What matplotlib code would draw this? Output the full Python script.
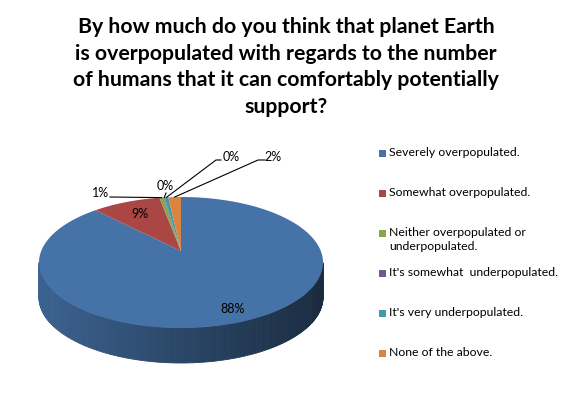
import numpy as np
import matplotlib.pyplot as plt
from matplotlib.colors import to_rgb
from matplotlib.patches import Polygon, Rectangle

# survey shares (percent)
categories = ["Severely overpopulated.",
              "Somewhat overpopulated.",
              "Neither overpopulated or\nunderpopulated.",
              "It's somewhat  underpopulated.",
              "It's very underpopulated.",
              "None of the above."]
shares = [87.9, 9.2, 0.6, 0.1, 0.5, 1.7]
colors = ["#4572A7", "#AA4643", "#89A54E", "#71588F", "#4198AF", "#DB843D"]

title = ("By how much do you think that planet Earth\n"
         "is overpopulated with regards to the number\n"
         "of humans that it can comfortably potentially\n"
         "support?")

FONT = "Lato"

# pie geometry in pixels (simple perspective for the tilted top face)
cx, a = 181.0, 139.8
y0, A, C = 251.0, 19.4, 0.1756
depth = 35.0


def proj(u, v):
    w = 1 + C * v
    return cx + a * u / w, (y0 - A * v) / w


def shade(rgb, f):
    return tuple(np.clip(np.array(rgb) * f, 0, 1))


fig = plt.figure(figsize=(5.71, 3.93), dpi=100)
ax = fig.add_axes([0, 0, 1, 1])
ax.set_xlim(0, 571)
ax.set_ylim(393, 0)
ax.axis("off")

fracs = np.array(shares) / sum(shares)
bounds = np.concatenate([[0], np.cumsum(fracs)])
# angles in radians, start at 12 o'clock, clockwise
angs = np.pi / 2 - 2 * np.pi * bounds

# visible front arc of the side wall
s = np.arcsin(C)
front_lo, front_hi = np.pi + s, 2 * np.pi - s
xl = proj(-np.sqrt(1 - C ** 2), -C)[0]
xr = proj(np.sqrt(1 - C ** 2), -C)[0]

for i, col in enumerate(colors):
    t1, t2 = angs[i + 1], angs[i]  # t1 < t2
    rgb = to_rgb(col)
    for k in (-1, 0, 1):
        lo = max(t1 + 2 * np.pi * k, front_lo)
        hi = min(t2 + 2 * np.pi * k, front_hi)
        if hi <= lo:
            continue
        n = max(2, int((hi - lo) / 0.02))
        th = np.linspace(lo, hi, n + 1)
        for j in range(n):
            tt = np.linspace(th[j], th[j + 1], 3)
            top = [proj(np.cos(q), np.sin(q)) for q in tt]
            bot = [(x, y + depth) for x, y in top[::-1]]
            xm = top[1][0]
            f = 0.86 - 0.48 * (xm - xl) / (xr - xl)
            c = shade(rgb, f)
            ax.add_patch(Polygon(top + bot, closed=True, facecolor=c,
                                 edgecolor=c, linewidth=0.6))

for i, col in enumerate(colors):
    t1, t2 = angs[i + 1], angs[i]
    if t2 - t1 <= 0:
        continue
    th = np.linspace(t1, t2, max(3, int((t2 - t1) / 0.01)))
    pts = [proj(0, 0)] + [proj(np.cos(q), np.sin(q)) for q in th]
    ax.add_patch(Polygon(pts, closed=True, facecolor=col, edgecolor="none"))

# inside labels
for i in (0, 1):
    m = (angs[i] + angs[i + 1]) / 2
    r = 0.85 if i == 0 else 0.72
    x, y = proj(r * np.cos(m), r * np.sin(m))
    ax.text(x, y, f"{shares[i]:.0f}%", ha="center", va="center",
            fontsize=9, family=FONT)

# outside labels with leader lines
outside = {2: ((101, 193), [(110, 197)]),
           3: ((165, 186), [(166, 193)]),
           4: ((231, 157), [(221, 160), (216, 160)]),
           5: ((273, 157), [(265, 160), (258, 160)])}
for i, (tpos, path) in outside.items():
    m = (angs[i] + angs[i + 1]) / 2
    anchor = proj(np.cos(m), np.sin(m))
    xs = [p[0] for p in path] + [anchor[0]]
    ys = [p[1] for p in path] + [anchor[1]]
    ax.plot(xs, ys, color="black", linewidth=0.8)
    ax.text(tpos[0], tpos[1], f"{shares[i]:.0f}%", ha="center", va="center",
            fontsize=9, family=FONT)

# legend
for i, (lab, col) in enumerate(zip(categories, colors)):
    y = 153 + 40 * i
    ax.add_patch(Rectangle((379, y - 3.5), 7, 7, facecolor=col, edgecolor="none"))
    ax.text(389, y - 6.5, lab, ha="left", va="top", fontsize=8.8,
            family=FONT, linespacing=1.4)

ax.text(286, 67, title, ha="center", va="center", fontsize=15.3,
        fontweight="bold", family=FONT, linespacing=1.43)

fig.savefig("out.png", dpi=100)
